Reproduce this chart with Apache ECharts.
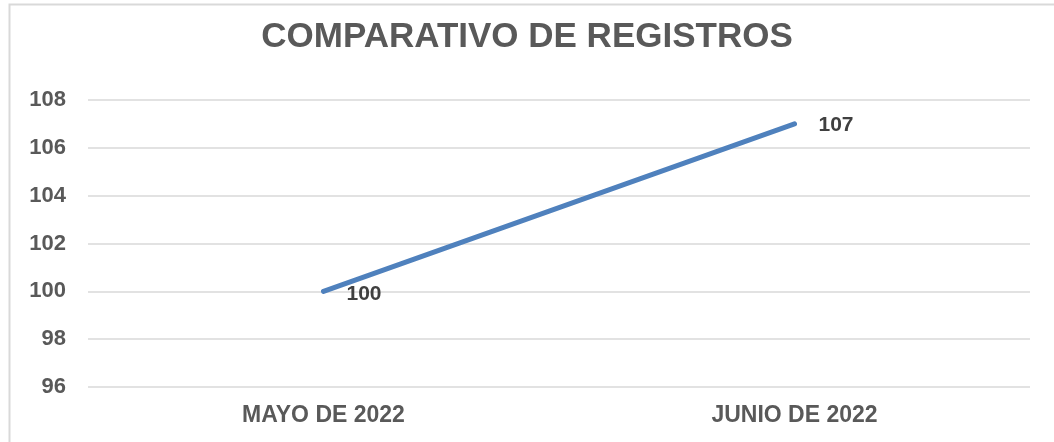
<!DOCTYPE html>
<html><head><meta charset="utf-8">
<script src="https://cdn.jsdelivr.net/npm/echarts@6/dist/echarts.min.js"></script>
<style>html,body{margin:0;padding:0;background:#fff}#c{width:1054px;height:442px}</style>
</head><body><div id="c"></div>
<script>
var title = 'COMPARATIVO DE REGISTROS';
var categories = ['MAYO DE 2022', 'JUNIO DE 2022'];
var registros = [100, 107];
var yMin = 96, yMax = 108, yStep = 2;

var labelOffsets = [[-1, 3], [0, 1]];

var chart = echarts.init(document.getElementById('c'), null, {renderer: 'canvas'});
chart.setOption({
  animation: false,
  backgroundColor: '#fff',
  graphic: [{
    type: 'rect', shape: {x: 9.5, y: 4.5, width: 1100, height: 500},
    style: {fill: 'none', stroke: '#d9d9d9', lineWidth: 2}, silent: true
  }],
  title: {
    text: title, left: 'center', top: 15,
    textStyle: {fontFamily: 'Liberation Sans, Arial', fontWeight: 'bold', fontSize: 35, color: '#595959'}
  },
  grid: {left: 88, right: 24, top: 100, bottom: 55, containLabel: false},
  xAxis: {
    type: 'category', data: categories, boundaryGap: true,
    axisLine: {show: false}, axisTick: {show: false},
    axisLabel: {margin: 17, fontFamily: 'Liberation Sans, Arial', fontWeight: 'bold', fontSize: 23, color: '#595959'}
  },
  yAxis: {
    type: 'value', min: yMin, max: yMax, interval: yStep,
    axisLine: {show: false}, axisTick: {show: false},
    axisLabel: {margin: 22, fontFamily: 'Liberation Sans, Arial', fontWeight: 'bold', fontSize: 22, color: '#595959'},
    splitLine: {lineStyle: {color: '#d9d9d9', width: 1.5}}
  },
  series: [{
    type: 'line',
    data: registros.map(function (v, i) { return {value: v, label: {offset: labelOffsets[i]}}; }),
    symbol: 'circle', symbolSize: 4, showSymbol: true,
    itemStyle: {color: '#4f81bd'},
    lineStyle: {color: '#4f81bd', width: 5, cap: 'round'},
    label: {
      show: true, position: 'right', distance: 22,
      fontFamily: 'Liberation Sans, Arial', fontWeight: 'bold', fontSize: 21, color: '#404040'
    }
  }]
});
</script></body></html>
